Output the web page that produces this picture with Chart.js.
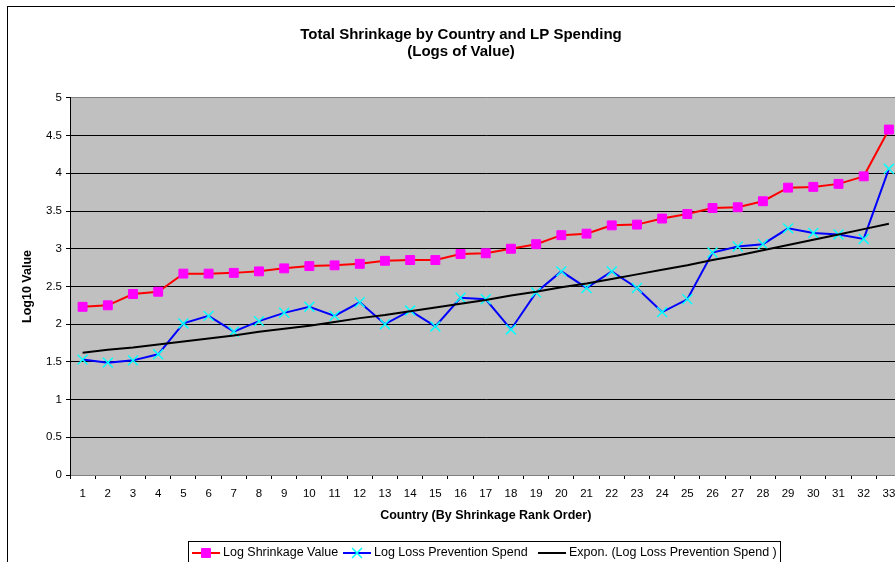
<!DOCTYPE html>
<html>
<head>
<meta charset="utf-8">
<script src="https://cdn.jsdelivr.net/npm/chart.js@4/dist/chart.umd.min.js"></script>
<style>
  html, body { margin: 0; padding: 0; background: #fff; overflow: hidden; }
  #wrap { width: 910px; height: 562px; }
</style>
</head>
<body>
<div id="wrap"><canvas id="grafico" width="910" height="562"></canvas></div>
<script>
// Países 1..33 ordenados por merma
var paises = ['1','2','3','4','5','6','7','8','9','10','11','12','13','14','15','16','17',
              '18','19','20','21','22','23','24','25','26','27','28','29','30','31','32','33'];

// Log Shrinkage Value
var logMerma = [2.23, 2.25, 2.40, 2.43, 2.67, 2.67, 2.68, 2.70, 2.74, 2.77, 2.78, 2.80,
                2.84, 2.85, 2.85, 2.93, 2.94, 3.00, 3.06, 3.18, 3.20, 3.31, 3.32, 3.40,
                3.46, 3.54, 3.55, 3.63, 3.81, 3.82, 3.86, 3.96, 4.58];

// Log Loss Prevention Spend
var logGasto = [1.53, 1.49, 1.52, 1.60, 2.01, 2.11, 1.90, 2.04, 2.15, 2.23, 2.11, 2.29,
                2.00, 2.18, 1.97, 2.35, 2.33, 1.93, 2.42, 2.70, 2.48, 2.70, 2.48, 2.16,
                2.33, 2.95, 3.03, 3.06, 3.27, 3.21, 3.19, 3.13, 4.06];

// Expon. (Log Loss Prevention Spend)
var tendencia = [1.62, 1.66, 1.69, 1.73, 1.77, 1.81, 1.85, 1.90, 1.94, 1.98, 2.03, 2.08,
                 2.12, 2.17, 2.22, 2.27, 2.32, 2.38, 2.43, 2.49, 2.54, 2.60, 2.66, 2.72,
                 2.78, 2.85, 2.91, 2.98, 3.05, 3.12, 3.19, 3.26, 3.33];

var fuente = 'Liberation Sans, Arial, sans-serif';

// Fondo blanco, borde exterior y área gris
var fondo = {
    id: 'fondo',
    beforeDraw: function (chart) {
        var ctx = chart.ctx, a = chart.chartArea;
        ctx.save();
        ctx.fillStyle = '#fff';
        ctx.fillRect(0, 0, chart.width, chart.height);
        ctx.strokeStyle = '#000';
        ctx.lineWidth = 1;
        ctx.strokeRect(7.5, 6.5, 3000, 3000);
        ctx.fillStyle = '#C0C0C0';
        ctx.fillRect(a.left, a.top, a.right - a.left, a.bottom - a.top);
        ctx.restore();
    }
};

// Leyenda con recuadro, como en Excel
var leyenda = {
    id: 'leyenda',
    afterDraw: function (chart) {
        var ctx = chart.ctx;
        var inicios = [192, 343, 538];
        var y = 553;
        ctx.save();
        ctx.fillStyle = '#fff';
        ctx.fillRect(188.5, 541.5, 592, 40);
        ctx.strokeStyle = '#000';
        ctx.lineWidth = 1;
        ctx.strokeRect(188.5, 541.5, 592, 40);
        ctx.font = '12.5px ' + fuente;
        ctx.textBaseline = 'middle';
        chart.data.datasets.forEach(function (ds, i) {
            var x = inicios[i];
            ctx.strokeStyle = ds.borderColor;
            ctx.lineWidth = 2;
            ctx.beginPath();
            ctx.moveTo(x, y);
            ctx.lineTo(x + 28, y);
            ctx.stroke();
            if (ds.pointRadius > 0) {
                ctx.fillStyle = ds.pointBackgroundColor;
                ctx.strokeStyle = ds.pointBorderColor;
                ctx.lineWidth = ds.pointBorderWidth;
                Chart.helpers.drawPoint(ctx, {
                    pointStyle: ds.pointStyle,
                    radius: ds.pointRadius,
                    rotation: 0,
                    borderWidth: ds.pointBorderWidth
                }, x + 14, y);
            }
            ctx.fillStyle = '#000';
            ctx.fillText(ds.label, x + 31, y);
        });
        ctx.restore();
    }
};

new Chart(document.getElementById('grafico').getContext('2d'), {
    type: 'line',
    data: {
        labels: paises,
        datasets: [{
            label: 'Log Shrinkage Value',
            data: logMerma,
            borderColor: '#FF0000',
            borderWidth: 2,
            pointStyle: 'rect',
            pointRadius: 6.3,
            pointBackgroundColor: '#FF00FF',
            pointBorderColor: '#FF00FF',
            pointBorderWidth: 1,
            order: 2
        }, {
            label: 'Log Loss Prevention Spend',
            data: logGasto,
            borderColor: '#0000FF',
            borderWidth: 2,
            pointStyle: 'crossRot',
            pointRadius: 7,
            pointBackgroundColor: '#00FFFF',
            pointBorderColor: '#00FFFF',
            pointBorderWidth: 1.5,
            order: 3
        }, {
            label: 'Expon. (Log Loss Prevention Spend )',
            data: tendencia,
            borderColor: '#000000',
            borderWidth: 2,
            pointRadius: 0,
            order: 1
        }]
    },
    options: {
        responsive: false,
        animation: false,
        events: [],
        layout: { padding: { left: 14, right: 2, top: 0, bottom: 35 } },
        plugins: {
            legend: { display: false },
            tooltip: { enabled: false },
            title: {
                display: true,
                text: ['Total Shrinkage by Country and LP Spending', '(Logs of Value)'],
                color: '#000',
                font: { family: fuente, size: 15, weight: 'bold', lineHeight: 1.13 },
                padding: { top: 26, bottom: 38 }
            }
        },
        scales: {
            x: {
                offset: true,
                grid: {
                    offset: true,
                    drawOnChartArea: false,
                    drawTicks: true,
                    tickLength: 4,
                    color: '#000'
                },
                border: { display: true, color: '#808080', width: 1 },
                ticks: {
                    color: '#000',
                    font: { family: fuente, size: 11.5 },
                    padding: 8,
                    maxRotation: 0,
                    autoSkip: false
                },
                title: {
                    display: true,
                    text: 'Country (By Shrinkage Rank Order)',
                    color: '#000',
                    font: { family: fuente, size: 12.5, weight: 'bold' },
                    padding: { top: 0, bottom: 3.5 }
                },
                afterFit: function (scale) { scale.height = 52; }
            },
            y: {
                min: 0,
                max: 5,
                grid: {
                    color: function (c) {
                        return (c.tick && (c.tick.value === 5 || c.tick.value === 0)) ? '#808080' : '#000';
                    },
                    tickColor: '#000',
                    tickLength: 4,
                    lineWidth: 1
                },
                border: { display: true, color: '#000', width: 1 },
                ticks: {
                    stepSize: 0.5,
                    color: '#000',
                    font: { family: fuente, size: 11.5 },
                    padding: 4,
                    callback: function (v) { return String(Math.round(v * 10) / 10); }
                },
                title: {
                    display: true,
                    text: 'Log10 Value',
                    color: '#000',
                    font: { family: fuente, size: 12.5, weight: 'bold' },
                    padding: { top: 6.5, bottom: 0 }
                },
                afterFit: function (scale) { scale.width = 56; }
            }
        }
    },
    plugins: [fondo, leyenda]
});
</script>
</body>
</html>
